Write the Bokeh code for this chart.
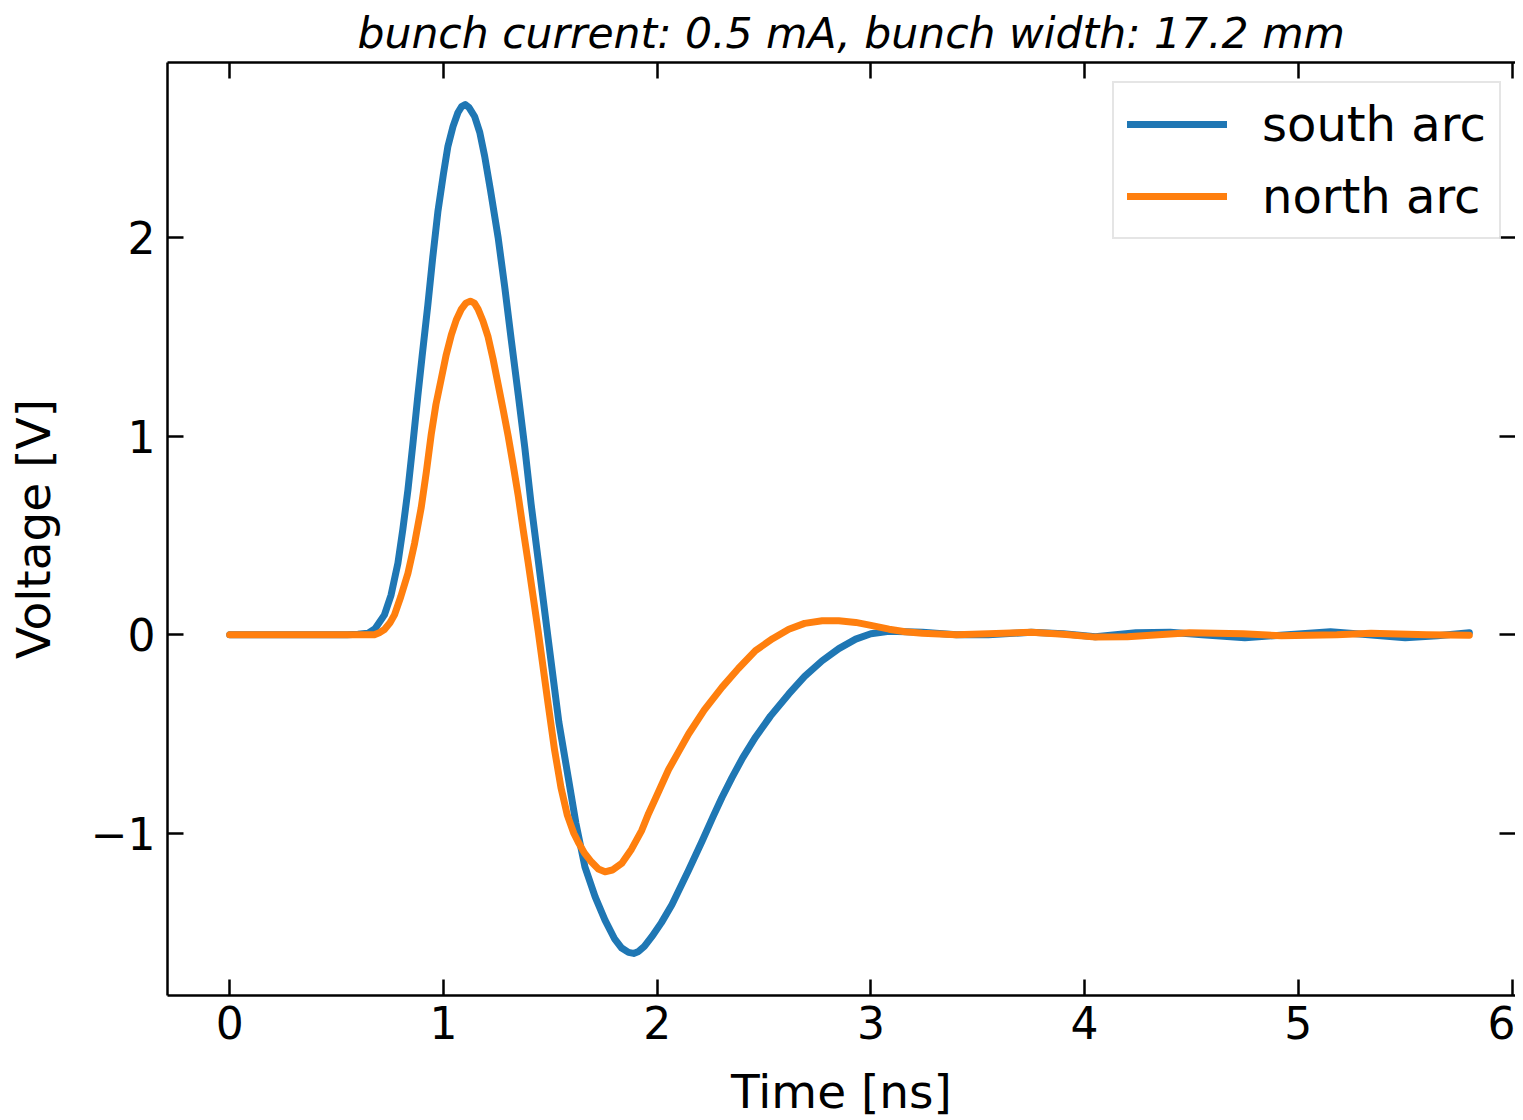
from bokeh.plotting import figure
from bokeh.models import (LinearAxis, FixedTicker, Range1d, Legend, LegendItem,
                          CustomJSTickFormatter)
from bokeh.embed import file_html
from bokeh.resources import INLINE

# ---- data ----
title_text = "bunch current: 0.5 mA, bunch width: 17.2 mm"
series_names = ["south arc", "north arc"]

t_south = [0.0, 0.3, 0.55, 0.60, 0.646, 0.68, 0.724, 0.755, 0.787, 0.81,
           0.834, 0.857, 0.88, 0.90, 0.927, 0.95, 0.974, 1.0, 1.021, 1.045,
           1.068, 1.085, 1.102, 1.12, 1.146, 1.17, 1.193, 1.22, 1.256, 1.287,
           1.318, 1.35, 1.381, 1.41, 1.443, 1.49, 1.54, 1.584, 1.62, 1.662,
           1.71, 1.756, 1.80, 1.834, 1.866, 1.89, 1.913, 1.94, 1.975, 2.02,
           2.069, 2.147, 2.21, 2.26, 2.303, 2.35, 2.40, 2.46, 2.53, 2.616,
           2.69, 2.772, 2.85, 2.929, 3.0, 3.085, 3.241, 3.4, 3.55, 3.75,
           3.9, 4.05, 4.24, 4.4, 4.55, 4.75, 4.95, 5.15, 5.3, 5.5, 5.65, 5.8]
v_south = [0.0, 0.0, 0.0, 0.002, 0.007, 0.03, 0.10, 0.20, 0.36, 0.53,
           0.73, 0.96, 1.20, 1.40, 1.66, 1.90, 2.13, 2.32, 2.46, 2.56,
           2.63, 2.66, 2.67, 2.655, 2.61, 2.53, 2.41, 2.24, 2.00, 1.75,
           1.48, 1.21, 0.94, 0.66, 0.38, -0.02, -0.44, -0.72, -0.95, -1.169,
           -1.32, -1.437, -1.53, -1.578, -1.600, -1.605, -1.595, -1.57, -1.521, -1.45,
           -1.36, -1.186, -1.04, -0.92, -0.82, -0.72, -0.62, -0.516, -0.41, -0.298,
           -0.21, -0.131, -0.07, -0.022, 0.005, 0.017, 0.012, 0.0, 0.0, 0.012,
           0.005, -0.01, 0.01, 0.012, 0.0, -0.015, 0.0, 0.015, 0.002, -0.015, -0.005, 0.01]

t_north = [0.0, 0.3, 0.55, 0.677, 0.70, 0.724, 0.75, 0.771, 0.80, 0.834,
           0.865, 0.896, 0.92, 0.943, 0.965, 0.990, 1.013, 1.037, 1.06, 1.084,
           1.105, 1.126, 1.145, 1.162, 1.185, 1.209, 1.232, 1.256, 1.28, 1.303,
           1.327, 1.350, 1.373, 1.397, 1.42, 1.443, 1.49, 1.52, 1.55, 1.58,
           1.61, 1.631, 1.66, 1.693, 1.725, 1.756, 1.79, 1.834, 1.88, 1.928, 1.96,
           1.99, 2.053, 2.10, 2.147, 2.22, 2.303, 2.38, 2.46, 2.54, 2.616,
           2.69, 2.772, 2.85, 2.929, 3.0, 3.085, 3.16, 3.241, 3.4, 3.55,
           3.75, 3.9, 4.05, 4.2, 4.49, 4.74, 4.92, 5.18, 5.34, 5.6, 5.8]
v_north = [0.0, 0.0, 0.0, 0.0, 0.01, 0.026, 0.06, 0.10, 0.19, 0.31,
           0.46, 0.64, 0.82, 1.01, 1.16, 1.29, 1.41, 1.51, 1.585, 1.64,
           1.67, 1.68, 1.67, 1.64, 1.58, 1.50, 1.39, 1.26, 1.13, 1.0,
           0.85, 0.70, 0.53, 0.36, 0.19, 0.02, -0.35, -0.58, -0.77, -0.91,
           -1.0, -1.045, -1.10, -1.145, -1.18, -1.194, -1.185, -1.152, -1.08, -0.985, -0.90,
           -0.83, -0.68, -0.59, -0.50, -0.38, -0.265, -0.17, -0.08, -0.02, 0.028,
           0.057, 0.070, 0.070, 0.062, 0.047, 0.028, 0.015, 0.007, 0.0, 0.005,
           0.012, 0.002, -0.012, -0.01, 0.01, 0.005, -0.005, 0.0, 0.008, 0.0, -0.003]

x_ticks = [0, 1, 2, 3, 4, 5, 6]
y_ticks = [-1, 0, 1, 2]
y_tick_labels = {-1: "\u22121", 0: "0", 1: "1", 2: "2"}

colors = ["#1f77b4", "#ff7f0e"]
FONT = "DejaVu Sans"

p = figure(width=1515, height=1125, output_backend="svg", toolbar_location=None,
           x_range=Range1d(-0.291, 6.016), y_range=Range1d(-1.817, 2.882),
           min_border_left=167, min_border_right=0, min_border_top=62,
           min_border_bottom=130, x_axis_label="Time [ns]", y_axis_label="Voltage [V]")
p.outline_line_color = None
p.grid.visible = False
p.background_fill_color = "white"
p.border_fill_color = "white"

p.title.text = title_text
p.title.align = "left"
p.title.offset = 190
p.title.text_font = FONT
p.title.text_font_size = "42.5px"
p.title.text_font_style = "italic"
p.title.text_color = "black"
p.title.standoff = 9


def style(ax, ticks):
    ax.ticker = FixedTicker(ticks=ticks)
    ax.axis_line_width = 2.5
    ax.axis_line_color = "black"
    ax.major_tick_in = 16
    ax.major_tick_out = 0
    ax.major_tick_line_width = 2.5
    ax.major_tick_line_color = "black"
    ax.minor_tick_line_color = None
    ax.major_label_text_font = FONT
    ax.major_label_text_font_size = "44px"
    ax.major_label_text_color = "black"
    ax.axis_label_text_font = FONT
    ax.axis_label_text_font_size = "47px"
    ax.axis_label_text_font_style = "normal"
    ax.axis_label_text_color = "black"


xa = p.xaxis[0]
style(xa, x_ticks)
xa.major_label_standoff = 10
xa.axis_label_standoff = 22

ya = p.yaxis[0]
style(ya, y_ticks)
ya.major_label_standoff = 12
ya.axis_label_standoff = 27
ya.major_label_overrides = y_tick_labels

empty = CustomJSTickFormatter(code="return '';")
top = LinearAxis(formatter=empty)
style(top, x_ticks)
top.major_label_standoff = 0
top.major_label_text_font_size = "1px"
p.add_layout(top, "above")

right = LinearAxis(formatter=empty)
style(right, y_ticks)
right.axis_line_color = None
right.major_label_standoff = 0
right.major_label_text_font_size = "1px"
p.add_layout(right, "right")

r1 = p.line(t_south, v_south, line_width=7, line_color=colors[0], line_cap="round", line_join="round")
r2 = p.line(t_north, v_north, line_width=7, line_color=colors[1], line_cap="round", line_join="round")

legend = Legend(items=[LegendItem(label=series_names[0], renderers=[r1]),
                       LegendItem(label=series_names[1], renderers=[r2])],
                location=(945, 756))
legend.label_text_font = FONT
legend.label_text_font_size = "48px"
legend.label_text_color = "black"
legend.glyph_width = 100
legend.glyph_height = 50
legend.label_height = 50
legend.label_standoff = 35
legend.spacing = 16
legend.padding = 13
legend.margin = 0
legend.border_line_color = "#cccccc"
legend.border_line_width = 2
legend.background_fill_alpha = 0.8
p.add_layout(legend)

open("out.html", "w").write(file_html(p, INLINE))
